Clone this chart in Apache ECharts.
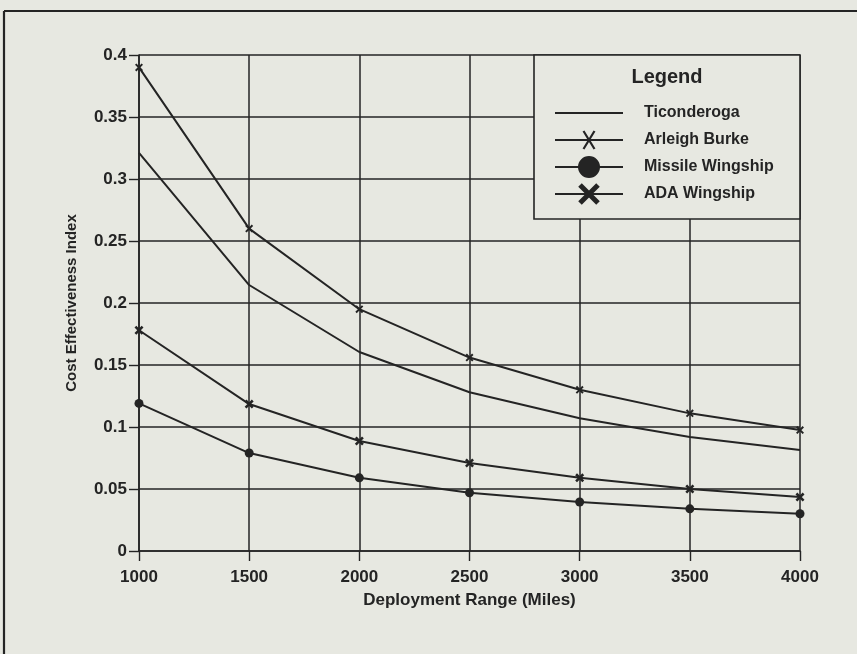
<!DOCTYPE html>
<html>
<head>
<meta charset="utf-8">
<script src="https://cdn.jsdelivr.net/npm/echarts@6/dist/echarts.min.js"></script>
<style>
  html, body { margin: 0; padding: 0; background: #e7e8e1; }
  #chart { width: 857px; height: 654px; }
</style>
</head>
<body>
<div id="chart"></div>
<script>
// Deployment range (miles) on the x axis
const ranges = [1000, 1500, 2000, 2500, 3000, 3500, 4000];

// Cost effectiveness index for each ship type
const ticonderoga     = [0.321, 0.2145, 0.1605, 0.128, 0.107, 0.092, 0.0815];
const arleighBurke    = [0.390, 0.260, 0.195, 0.156, 0.130, 0.111, 0.0975];
const missileWingship = [0.119, 0.079, 0.059, 0.047, 0.0395, 0.034, 0.030];
const adaWingship     = [0.178, 0.1185, 0.0887, 0.071, 0.059, 0.050, 0.0435];

const seriesNames = ['Ticonderoga', 'Arleigh Burke', 'Missile Wingship', 'ADA Wingship'];

// Tick labels
const xTickLabels = ['1000', '1500', '2000', '2500', '3000', '3500', '4000'];
const yTickLabels = ['0', '0.05', '0.1', '0.15', '0.2', '0.25', '0.3', '0.35', '0.4'];

const INK = '#242424';
const BG = '#e7e8e1';
const FONT = '"Liberation Sans", Arial, Helvetica, sans-serif';

// ---- symbol path helpers (all sub-paths share one winding so overlaps stay filled) ----
function fmt(n) { return (Math.round(n * 100) / 100).toString(); }
// one diagonal bar as a filled quad
function bar(x0, y0, x1, y1, t) {
  const dx = x1 - x0, dy = y1 - y0, len = Math.hypot(dx, dy);
  const nx = -dy / len * t / 2, ny = dx / len * t / 2;
  return 'M' + fmt(x0 + nx) + ',' + fmt(y0 + ny) +
         'L' + fmt(x1 + nx) + ',' + fmt(y1 + ny) +
         'L' + fmt(x1 - nx) + ',' + fmt(y1 - ny) +
         'L' + fmt(x0 - nx) + ',' + fmt(y0 - ny) + 'Z';
}
// an X centred on (cx, cy)
function crossPath(cx, cy, w, h, t) {
  return bar(cx - w / 2, cy - h / 2, cx + w / 2, cy + h / 2, t) +
         bar(cx - w / 2, cy + h / 2, cx + w / 2, cy - h / 2, t);
}
function rectPath(x0, y0, x1, y1) {
  return 'M' + fmt(x0) + ',' + fmt(y0) + 'L' + fmt(x0) + ',' + fmt(y1) +
         'L' + fmt(x1) + ',' + fmt(y1) + 'L' + fmt(x1) + ',' + fmt(y0) + 'Z';
}
function circlePath(cx, cy, r) {
  return 'M' + fmt(cx - r) + ',' + fmt(cy) +
         'A' + r + ',' + r + ' 0 1,0 ' + fmt(cx + r) + ',' + fmt(cy) +
         'A' + r + ',' + r + ' 0 1,0 ' + fmt(cx - r) + ',' + fmt(cy) + 'Z';
}

// legend keys: a line with the marker in the middle, all on the same 68x22 frame
const KEY_W = 68, KEY_H = 22, LINE_T = 1.8, MID = KEY_H / 2;
function keyIcon(marker) {
  // zero-area anchors fix the icon bounds so every key row has the same height
  const anchors = 'M34,0L34.01,0L34,0Z' + 'M34,' + KEY_H + 'L34.01,' + KEY_H + 'L34,' + KEY_H + 'Z';
  return 'path://' + anchors + rectPath(0, MID - LINE_T / 2, KEY_W, MID + LINE_T / 2) + marker;
}
const legendIcons = {
  'Ticonderoga': keyIcon(''),
  'Arleigh Burke': keyIcon(crossPath(KEY_W / 2, MID, 11, 18, 2.2)),
  'Missile Wingship': keyIcon(circlePath(KEY_W / 2, MID, 11)),
  'ADA Wingship': keyIcon(crossPath(KEY_W / 2, MID, 18, 18, 5))
};

// plot markers
const thinCross = 'path://' + crossPath(5, 5, 10, 10, 3);
const boldCross = 'path://' + crossPath(5, 5, 10, 10, 3.6);

function pairs(values) { return ranges.map((r, i) => [r, values[i]]); }

const lineBase = {
  type: 'line',
  smooth: false,
  lineStyle: { color: INK, width: 2 },
  itemStyle: { color: INK, borderWidth: 0 },
  emphasis: { disabled: true },
  animation: false
};

const chart = echarts.init(document.getElementById('chart'), null, { renderer: 'canvas' });

chart.setOption({
  backgroundColor: BG,
  animation: false,
  textStyle: { fontFamily: FONT, color: INK },
  grid: { left: 139, top: 55, right: 57, bottom: 103, containLabel: false },
  xAxis: {
    type: 'value',
    min: 1000, max: 4000, interval: 500,
    name: 'Deployment Range (Miles)',
    nameLocation: 'middle',
    nameGap: 41,
    nameTextStyle: { fontFamily: FONT, fontSize: 17, fontWeight: 'bold', color: INK },
    axisLine: { show: true, lineStyle: { color: INK, width: 1.6 } },
    axisTick: { show: true, inside: false, length: 10, lineStyle: { color: INK, width: 1.4 } },
    axisLabel: {
      margin: 18, fontFamily: FONT, fontSize: 17, fontWeight: 'bold', color: INK,
      formatter: (v) => xTickLabels[ranges.indexOf(v)]
    },
    splitLine: { show: true, lineStyle: { color: INK, width: 1.5 } }
  },
  yAxis: {
    type: 'value',
    min: 0, max: 0.4, interval: 0.05,
    name: 'Cost Effectiveness Index',
    nameLocation: 'middle',
    nameGap: 60,
    nameTextStyle: { fontFamily: FONT, fontSize: 15, fontWeight: 'bold', color: INK },
    axisLine: { show: true, lineStyle: { color: INK, width: 1.6 } },
    axisTick: { show: true, inside: false, length: 10, lineStyle: { color: INK, width: 1.4 } },
    axisLabel: {
      margin: 12, fontFamily: FONT, fontSize: 17, fontWeight: 'bold', color: INK,
      formatter: (v, i) => yTickLabels[i]
    },
    splitLine: { show: true, lineStyle: { color: INK, width: 1.5 } }
  },
  legend: {
    orient: 'vertical',
    left: 555,
    top: 102,
    z: 6,
    padding: 0,
    itemWidth: KEY_W,
    itemHeight: 24,
    itemGap: 5,
    symbolKeepAspect: true,
    selectedMode: false,
    itemStyle: { color: INK, borderWidth: 0 },
    textStyle: { fontFamily: FONT, fontSize: 16, fontWeight: 'bold', color: INK, padding: [0, 0, 0, 16] },
    data: seriesNames.map((n) => ({ name: n, icon: legendIcons[n] }))
  },
  graphic: [
    // page frame
    { type: 'line', z: 10, shape: { x1: 4, y1: 11, x2: 857, y2: 11 }, style: { stroke: INK, lineWidth: 2.2 } },
    { type: 'line', z: 10, shape: { x1: 4, y1: 11, x2: 4, y2: 654 }, style: { stroke: INK, lineWidth: 2.2 } },
    // legend box and heading
    { type: 'rect', z: 4, shape: { x: 534, y: 55, width: 266, height: 164 },
      style: { fill: BG, stroke: INK, lineWidth: 1.6 } },
    { type: 'text', z: 5, x: 667, y: 77,
      style: { text: 'Legend', fontFamily: FONT, fontSize: 20, fontWeight: 'bold', fill: INK,
               align: 'center', verticalAlign: 'middle' } }
  ],
  series: [
    Object.assign({}, lineBase, { name: seriesNames[0], data: pairs(ticonderoga), symbol: 'none', showSymbol: false }),
    Object.assign({}, lineBase, { name: seriesNames[1], data: pairs(arleighBurke), symbol: thinCross, symbolSize: 8 }),
    Object.assign({}, lineBase, { name: seriesNames[2], data: pairs(missileWingship), symbol: 'circle', symbolSize: 9 }),
    Object.assign({}, lineBase, { name: seriesNames[3], data: pairs(adaWingship), symbol: boldCross, symbolSize: 9 })
  ]
});
</script>
</body>
</html>
